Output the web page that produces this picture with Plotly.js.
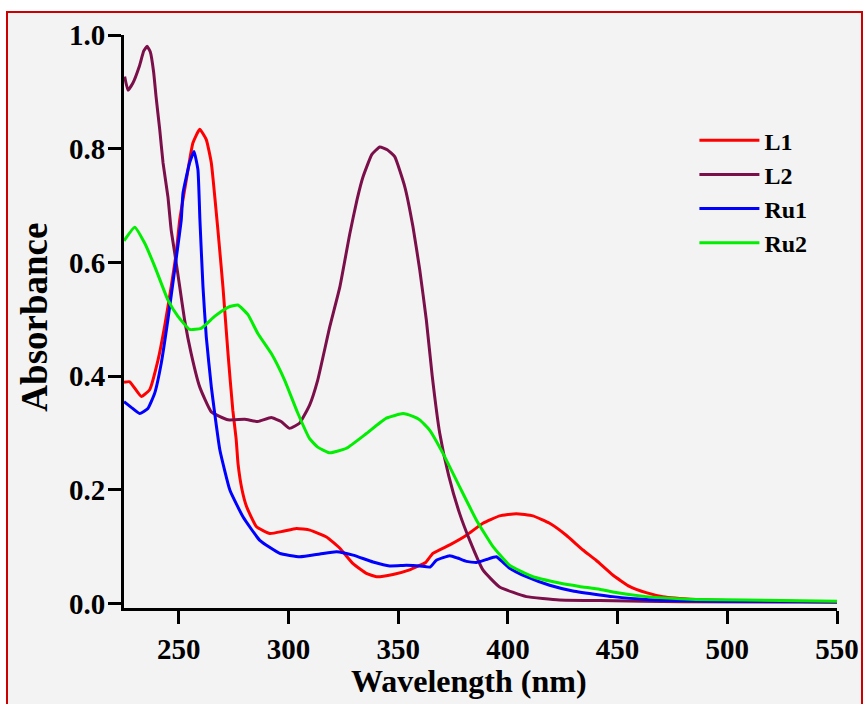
<!DOCTYPE html>
<html>
<head>
<meta charset="utf-8">
<script src="https://cdn.plot.ly/plotly-3.0.1.min.js"></script>
<style>
  html, body { margin: 0; padding: 0; background: #ffffff; }
  #frame { position: absolute; left: 6px; top: 11px; width: 853px; height: 700px;
           border: 2px solid #cc0000; border-bottom: none; background: #f3f3f3; }
  #plot { position: absolute; left: 0; top: 0; width: 867px; height: 704px; }
</style>
</head>
<body>
<div id="frame"></div>
<div id="plot"></div>
<script>
// ---- data ----
const seriesNames = ["L1", "L2", "Ru1", "Ru2"];
const xTitle = "Wavelength (nm)";
const yTitle = "Absorbance";

const L1_x = [225.0, 227.6, 232.9, 236.7, 240.5, 243.5, 246.5, 248.8, 250.4, 253.4, 256.4, 259.5, 262.5, 264.8, 267.8, 270.1, 272.4, 274.6, 276.1, 277.0, 278.8, 280.9, 285.4, 291.5, 297.5, 303.6, 309.7, 317.3, 323.4, 329.4, 335.5, 340.1, 347.6, 355.2, 359.8, 362.5, 365.8, 373.5, 381.1, 388.6, 396.2, 403.8, 411.4, 419.0, 426.6, 434.2, 440.2, 447.8, 455.4, 463.0, 470.6, 485.8, 500.0, 520.0, 550.0];
const L1_y = [0.389, 0.390, 0.364, 0.376, 0.428, 0.487, 0.557, 0.616, 0.675, 0.745, 0.810, 0.834, 0.816, 0.775, 0.657, 0.557, 0.440, 0.340, 0.290, 0.245, 0.200, 0.170, 0.135, 0.123, 0.127, 0.132, 0.129, 0.117, 0.097, 0.070, 0.053, 0.047, 0.051, 0.059, 0.067, 0.072, 0.088, 0.103, 0.120, 0.141, 0.154, 0.158, 0.154, 0.141, 0.120, 0.094, 0.076, 0.050, 0.030, 0.019, 0.012, 0.007, 0.005, 0.004, 0.003];

const L2_x = [225.3, 226.8, 229.0, 232.0, 234.0, 235.5, 237.0, 238.5, 239.6, 241.3, 242.8, 245.0, 246.5, 248.1, 250.4, 252.6, 255.6, 259.5, 264.8, 272.4, 280.0, 286.0, 292.1, 296.6, 300.5, 305.0, 309.6, 313.3, 318.8, 323.4, 327.9, 331.2, 334.0, 338.0, 341.6, 345.0, 348.4, 353.0, 356.7, 359.8, 362.8, 365.5, 368.9, 373.0, 378.0, 382.6, 388.6, 396.2, 408.4, 423.5, 441.8, 480.0, 550.0];
const L2_y = [0.927, 0.903, 0.915, 0.945, 0.972, 0.980, 0.970, 0.935, 0.892, 0.833, 0.775, 0.716, 0.657, 0.617, 0.557, 0.499, 0.440, 0.381, 0.337, 0.323, 0.324, 0.320, 0.327, 0.320, 0.308, 0.317, 0.349, 0.393, 0.487, 0.557, 0.650, 0.710, 0.751, 0.790, 0.803, 0.798, 0.786, 0.733, 0.663, 0.587, 0.499, 0.400, 0.300, 0.225, 0.158, 0.111, 0.059, 0.029, 0.012, 0.006, 0.005, 0.003, 0.002];

const Ru1_x = [225.0, 228.3, 232.1, 235.9, 239.0, 242.0, 245.0, 248.1, 251.1, 251.9, 254.9, 256.9, 258.7, 259.6, 261.0, 262.5, 264.8, 266.5, 268.7, 273.3, 279.3, 286.9, 296.0, 305.1, 314.3, 321.9, 329.4, 338.5, 346.1, 353.7, 359.8, 364.5, 367.4, 373.5, 377.0, 381.1, 385.6, 390.0, 394.7, 397.0, 400.8, 408.4, 419.0, 429.6, 441.8, 447.8, 463.0, 480.0, 500.0, 550.0];
const Ru1_y = [0.355, 0.345, 0.334, 0.343, 0.370, 0.423, 0.499, 0.587, 0.675, 0.722, 0.775, 0.795, 0.763, 0.675, 0.557, 0.469, 0.381, 0.330, 0.270, 0.199, 0.152, 0.111, 0.088, 0.082, 0.087, 0.091, 0.085, 0.073, 0.066, 0.067, 0.066, 0.064, 0.076, 0.084, 0.080, 0.074, 0.072, 0.077, 0.082, 0.075, 0.062, 0.047, 0.032, 0.022, 0.015, 0.012, 0.007, 0.005, 0.004, 0.003];

const Ru2_x = [225.0, 229.9, 234.4, 239.0, 245.0, 249.6, 254.9, 260.2, 266.3, 272.4, 276.9, 281.5, 286.0, 292.1, 298.2, 304.2, 309.6, 313.3, 318.8, 326.4, 335.5, 344.6, 352.2, 356.7, 359.8, 364.3, 370.4, 378.0, 385.6, 393.2, 400.8, 411.4, 423.5, 432.6, 441.8, 447.8, 463.0, 485.8, 508.5, 550.0];
const Ru2_y = [0.638, 0.662, 0.634, 0.593, 0.534, 0.505, 0.482, 0.484, 0.505, 0.521, 0.525, 0.508, 0.475, 0.440, 0.393, 0.335, 0.290, 0.275, 0.265, 0.273, 0.299, 0.326, 0.334, 0.329, 0.323, 0.305, 0.264, 0.205, 0.147, 0.100, 0.067, 0.047, 0.036, 0.030, 0.025, 0.020, 0.012, 0.007, 0.006, 0.004];

const xTicks = [250, 300, 350, 400, 450, 500, 550];
const yTicks = [0.0, 0.2, 0.4, 0.6, 0.8, 1.0];
const yTickText = ["0.0", "0.2", "0.4", "0.6", "0.8", "1.0"];

// ---- styling ----
const colors = ["#ff0000", "#7a0f4a", "#0000ff", "#00ee00"];
const xs = [L1_x, L2_x, Ru1_x, Ru2_x];
const ys = [L1_y, L2_y, Ru1_y, Ru2_y];
const FONT = "Liberation Serif, Times New Roman, serif";

const traces = seriesNames.map((n, i) => ({
  type: "scatter", mode: "lines", name: n,
  x: xs[i], y: ys[i],
  line: { color: colors[i], width: 3, shape: "spline", smoothing: 0.4 }
}));

const axisCommon = {
  showline: true, linecolor: "#000", linewidth: 3,
  ticks: "outside", ticklen: 13, tickwidth: 3, tickcolor: "#000",
  showgrid: false, zeroline: false,
  tickfont: { family: FONT, size: 29, color: "#000", weight: "bold" }
};

const layout = {
  width: 867, height: 704,
  margin: { l: 124, r: 30, t: 35, b: 96 },
  paper_bgcolor: "rgba(0,0,0,0)", plot_bgcolor: "rgba(0,0,0,0)",
  showlegend: true,
  xaxis: Object.assign({}, axisCommon, { range: [225, 550], tickvals: xTicks }),
  yaxis: Object.assign({}, axisCommon, { range: [-0.008, 1.0], tickvals: yTicks, ticktext: yTickText,
                                         ticklabelstandoff: -3 }),
  annotations: [
    { text: xTitle, xref: "paper", yref: "paper", x: 0.484, y: -0.128,
      xanchor: "center", yanchor: "middle", showarrow: false,
      font: { family: FONT, size: 32, color: "#000", weight: "bold" } },
    { text: yTitle, xref: "paper", yref: "paper", x: -0.126, y: 0.507,
      xanchor: "center", yanchor: "middle", showarrow: false, textangle: -90,
      font: { family: FONT, size: 37, color: "#000", weight: "bold" } }
  ],
  legend: {
    x: 0.80, y: 0.855, xanchor: "left", yanchor: "top",
    bgcolor: "rgba(0,0,0,0)",
    font: { family: FONT, size: 24, color: "#000", weight: "bold" },
    itemwidth: 60, tracegroupgap: 0
  }
};

Plotly.newPlot("plot", traces, layout, { displayModeBar: false, staticPlot: true });
</script>
</body>
</html>
